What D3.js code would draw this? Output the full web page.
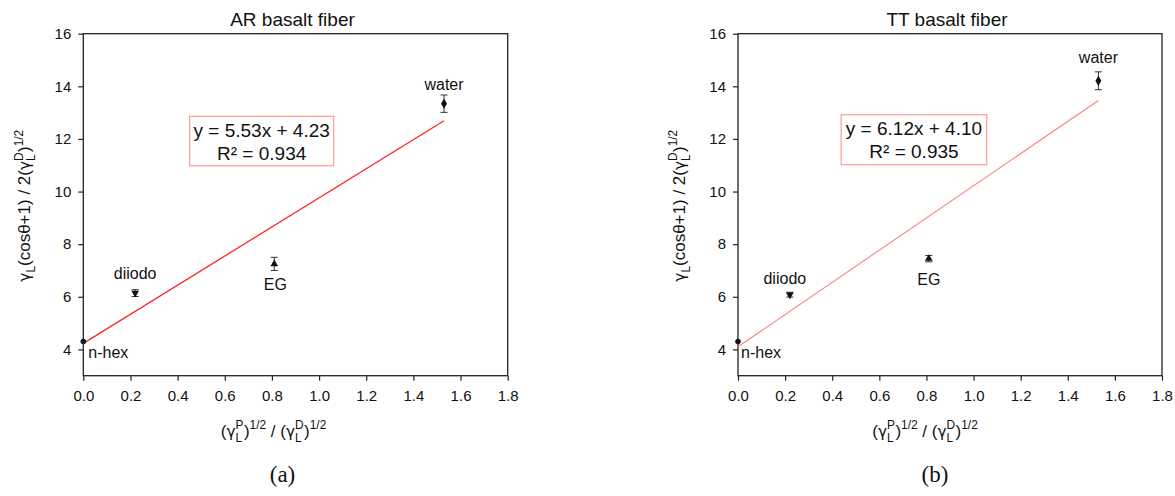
<!DOCTYPE html>
<html>
<head>
<meta charset="utf-8">
<script src="https://cdn.jsdelivr.net/npm/d3@7"></script>
<style>
  html, body { margin: 0; padding: 0; background: #fff; }
  svg { display: block; }
</style>
</head>
<body>
<svg id="chart" width="1175" height="496"></svg>
<script>
// ---------------- data ----------------
const titles = ["AR basalt fiber", "TT basalt fiber"];
const captions = ["(a)", "(b)"];
const solvents = ["n-hex", "diiodo", "EG", "water"];
const xValues = [0, 0.22, 0.81, 1.53];
const arY = [4.30, 6.14, 7.25, 13.34];
const arErr = [0, 0.13, 0.25, 0.33];
const ttY = [4.30, 6.08, 7.45, 14.21];
const ttErr = [0, 0.09, 0.12, 0.34];
const fitSlopes = [5.53, 6.12];
const fitIntercepts = [4.23, 4.10];
const fitR2 = [0.934, 0.935];
const xTicks = [0, 0.2, 0.4, 0.6, 0.8, 1.0, 1.2, 1.4, 1.6, 1.8];
const yTicks = [4, 6, 8, 10, 12, 14, 16];
const xDomain = [0, 1.8];
const yDomain = [3, 16];

// ---------------- layout / style ----------------
const panels = [
  { x0: 83.3, x1: 507.7, lineColor: "#ff2424", lineWidth: 1.3,
    labelOff: [[5, 16, "start"], [0, -14.5, "middle"], [1, 26, "middle"], [0, -14, "middle"]],
    box: [0.451, 1.062, 12.86, 10.98], xLabelShift: -22, capShift: -13 },
  { x0: 738, x1: 1162, lineColor: "#ff8080", lineWidth: 1.1,
    labelOff: [[3, 16, "start"], [-5, -10.5, "middle"], [0, 26, "middle"], [0, -17.5, "middle"]],
    box: [0.438, 1.056, 12.92, 11.02], xLabelShift: -25, capShift: -15 }
];
const yTop = 33.7, yBot = 375.7;
const series = [[arY, arErr], [ttY, ttErr]];
const markerTypes = [d3.symbolCircle, d3.symbolTriangle, d3.symbolTriangle, d3.symbolDiamond];
const markerRot = [0, 180, 0, 0];
const markerSize = [24, 26, 26, 30];

const SANS = "'Liberation Sans', Arial, Helvetica, sans-serif";
const GREEK = "'DejaVu Sans', 'Liberation Sans', sans-serif";
const SERIF = "'Liberation Serif', 'DejaVu Serif', serif";

const svg = d3.select("#chart");

// rich text helper with sup/sub
function rich(sel, parts, base) {
  let cur = 0;
  parts.forEach(p => {
    const off = p.m === "sup" ? -0.45 * base : p.m === "sub" ? 0.3 * base : 0;
    const ts = sel.append("tspan")
      .text(p.t)
      .attr("dy", (off - cur).toFixed(2))
      .attr("font-size", p.m ? (base * 0.7).toFixed(1) : base);
    if (p.dx !== undefined) ts.attr("dx", p.dx);
    if (p.g) ts.attr("font-family", GREEK).attr("font-size", base * 0.9);
    cur = off;
  });
}

const AX = 17;
const sw = AX * 0.7;
const yLabelParts = [
  { t: "γ", g: true }, { t: "L", m: "sub" },
  { t: "(cosθ+1) / 2(" }, { t: "γ", g: true },
  { t: "D", m: "sup" }, { t: "L", m: "sub", dx: -(0.722 * sw).toFixed(1) },
  { t: ")", dx: (0.2 * sw).toFixed(1) }, { t: "1/2", m: "sup" }
];
const xLabelParts = [
  { t: "(" }, { t: "γ", g: true }, { t: "P", m: "sup" }, { t: "L", m: "sub", dx: -(0.667 * sw).toFixed(1) },
  { t: ")", dx: (0.15 * sw).toFixed(1) }, { t: "1/2", m: "sup" },
  { t: " / (" }, { t: "γ", g: true }, { t: "D", m: "sup" }, { t: "L", m: "sub", dx: -(0.722 * sw).toFixed(1) },
  { t: ")", dx: (0.2 * sw).toFixed(1) }, { t: "1/2", m: "sup" }
];

panels.forEach((P, pi) => {
  const x = d3.scaleLinear().domain(xDomain).range([P.x0, P.x1]);
  const y = d3.scaleLinear().domain(yDomain).range([yBot, yTop]);
  const g = svg.append("g");
  const [yv, ev] = series[pi];

  // axes
  const ax = g.append("g").attr("transform", `translate(0,${yBot})`)
    .call(d3.axisBottom(x).tickValues(xTicks).tickFormat(d3.format(".1f")).tickSize(5).tickPadding(10));
  const ay = g.append("g").attr("transform", `translate(${P.x0},0)`)
    .call(d3.axisLeft(y).tickValues(yTicks).tickFormat(d3.format("d")).tickSize(5).tickPadding(7));
  [ax, ay].forEach(a => {
    a.select(".domain").remove();
    a.selectAll(".tick line").attr("stroke", "#222").attr("stroke-width", 1.2);
    a.selectAll(".tick text").attr("fill", "#111").attr("font-family", SANS).attr("font-size", 15);
  });

  // frame
  g.append("rect")
    .attr("x", P.x0).attr("y", yTop)
    .attr("width", P.x1 - P.x0).attr("height", yBot - yTop)
    .attr("fill", "none").attr("stroke", "#222").attr("stroke-width", 1.3);

  // title
  g.append("text")
    .attr("x", (P.x0 + P.x1) / 2 - 3).attr("y", 26)
    .attr("text-anchor", "middle").attr("font-family", SANS).attr("font-size", 19)
    .attr("fill", "#111").text(titles[pi]);

  // fit line
  const xMax = d3.max(xValues);
  g.append("line")
    .attr("x1", x(0)).attr("y1", y(fitIntercepts[pi]))
    .attr("x2", x(xMax)).attr("y2", y(fitIntercepts[pi] + fitSlopes[pi] * xMax))
    .attr("stroke", P.lineColor).attr("stroke-width", P.lineWidth);

  // error bars
  xValues.forEach((xv, i) => {
    if (ev[i] <= 0) return;
    const gx = x(xv);
    const eg = g.append("g").attr("stroke", "#333").attr("stroke-width", 1);
    eg.append("line").attr("x1", gx).attr("x2", gx).attr("y1", y(yv[i] - ev[i])).attr("y2", y(yv[i] + ev[i]));
    [yv[i] - ev[i], yv[i] + ev[i]].forEach(v => {
      eg.append("line").attr("x1", gx - 3.5).attr("x2", gx + 3.5).attr("y1", y(v)).attr("y2", y(v));
    });
  });

  // markers
  xValues.forEach((xv, i) => {
    g.append("path")
      .attr("d", d3.symbol().type(markerTypes[i]).size(markerSize[i])())
      .attr("transform", `translate(${x(xv)},${y(yv[i])}) rotate(${markerRot[i]})`)
      .attr("fill", "#111");
  });

  // point labels
  xValues.forEach((xv, i) => {
    const [dx, dy, anchor] = P.labelOff[i];
    g.append("text")
      .attr("x", x(xv) + dx).attr("y", y(yv[i]) + dy)
      .attr("text-anchor", anchor).attr("font-family", SANS).attr("font-size", 16)
      .attr("fill", "#111").text(solvents[i]);
  });

  // equation box
  const [bx0, bx1, by0, by1] = P.box;
  g.append("rect")
    .attr("x", x(bx0)).attr("y", y(by0))
    .attr("width", x(bx1) - x(bx0)).attr("height", y(by1) - y(by0))
    .attr("fill", "#fff").attr("stroke", "#ff9a9a").attr("stroke-width", 1.2);
  const cx = (x(bx0) + x(bx1)) / 2;
  g.append("text")
    .attr("x", cx).attr("y", y(by0) + 20.5)
    .attr("text-anchor", "middle").attr("font-family", SANS).attr("font-size", 19).attr("fill", "#111")
    .text(`y = ${fitSlopes[pi].toFixed(2)}x + ${fitIntercepts[pi].toFixed(2)}`);
  g.append("text")
    .attr("x", cx).attr("y", y(by0) + 43.5)
    .attr("text-anchor", "middle").attr("font-family", SANS).attr("font-size", 19).attr("fill", "#111")
    .text(`R² = ${fitR2[pi].toFixed(3)}`);

  // y axis label
  const yl = g.append("text")
    .attr("transform", `translate(${P.x0 - 53},${(yTop + yBot) / 2 + 1}) rotate(-90)`)
    .attr("text-anchor", "middle").attr("font-family", SANS).attr("fill", "#111");
  rich(yl, yLabelParts, AX);

  // x axis label
  const xl = g.append("text")
    .attr("x", (P.x0 + P.x1) / 2 + P.xLabelShift).attr("y", 437)
    .attr("text-anchor", "middle").attr("font-family", SANS).attr("fill", "#111");
  rich(xl, xLabelParts, AX);

  // caption
  g.append("text")
    .attr("x", (P.x0 + P.x1) / 2 + P.capShift).attr("y", 482)
    .attr("text-anchor", "middle").attr("font-family", SERIF).attr("font-size", 23)
    .attr("fill", "#111").text(captions[pi]);
});
</script>
</body>
</html>
